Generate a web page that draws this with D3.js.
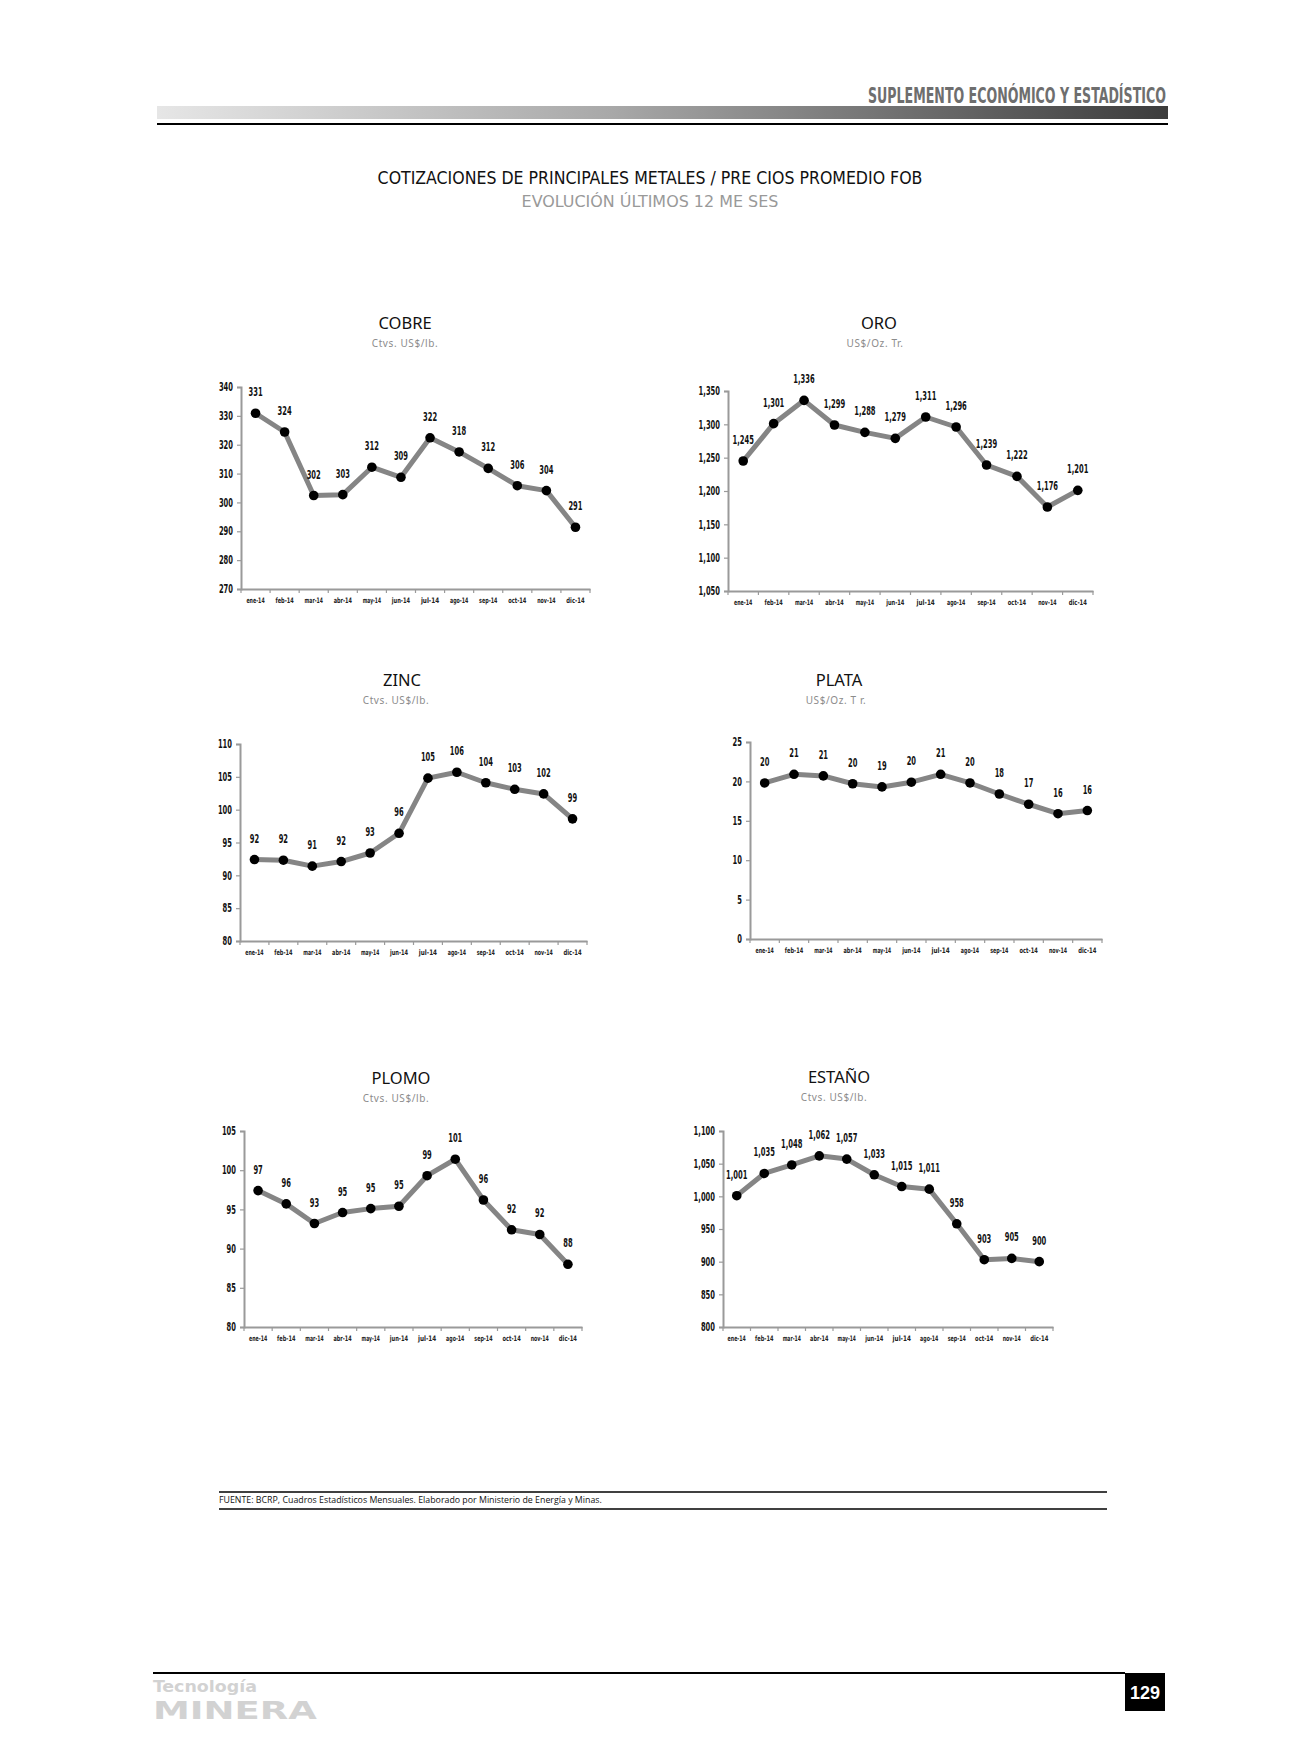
<!DOCTYPE html>
<html>
<head>
<meta charset="utf-8">
<script src="https://cdn.jsdelivr.net/npm/d3@7"></script>
<style>
  body { margin: 0; background: #fff; }
  svg { display: block; }
</style>
</head>
<body>
<div id="page"></div>
<script>
// meses del eje x
const months = ['ene-14', 'feb-14', 'mar-14', 'abr-14', 'may-14', 'jun-14',
  'jul-14', 'ago-14', 'sep-14', 'oct-14', 'nov-14', 'dic-14']

// cotizaciones
const cobre = [330.9, 324.4, 302.4, 302.7, 312.2, 308.7, 322.4, 317.5, 311.8, 305.8, 304.1, 291.4]
const oro = [1245, 1301, 1336, 1299, 1288, 1279, 1311, 1296, 1239, 1222, 1176, 1201]
const zinc = [92.4, 92.3, 91.4, 92.1, 93.4, 96.4, 104.8, 105.7, 104.1, 103.1, 102.4, 98.6]
const plata = [19.8, 20.9, 20.7, 19.7, 19.3, 19.9, 20.9, 19.8, 18.4, 17.1, 15.9, 16.3]
const plomo = [97.4, 95.7, 93.2, 94.6, 95.1, 95.4, 99.3, 101.4, 96.2, 92.4, 91.8, 88.0]
const estano = [1001, 1035, 1048, 1062, 1057, 1033, 1015, 1011, 958, 903, 905, 900]

// ticks del eje y
const cobreTicks = [270, 280, 290, 300, 310, 320, 330, 340]
const oroTicks = [1050, 1100, 1150, 1200, 1250, 1300, 1350]
const zincTicks = [80, 85, 90, 95, 100, 105, 110]
const plataTicks = [0, 5, 10, 15, 20, 25]
const plomoTicks = [80, 85, 90, 95, 100, 105]
const estanoTicks = [800, 850, 900, 950, 1000, 1050, 1100]

const panels = [
  { title: 'COBRE', unit: 'Ctvs. US$/lb.', values: cobre, ticks: cobreTicks,
    x0: 241, x1: 590, yTop: 387, yBot: 589, tx: 405, ty: 329, ux: 405 },
  { title: 'ORO', unit: 'US$/Oz. Tr.', values: oro, ticks: oroTicks,
    x0: 728, x1: 1093, yTop: 391, yBot: 591, tx: 879, ty: 329, ux: 875 },
  { title: 'ZINC', unit: 'Ctvs. US$/lb.', values: zinc, ticks: zincTicks,
    x0: 240, x1: 587, yTop: 744, yBot: 941, tx: 402, ty: 686, ux: 396 },
  { title: 'PLATA', unit: 'US$/Oz. T r.', values: plata, ticks: plataTicks,
    x0: 750, x1: 1102, yTop: 742, yBot: 939, tx: 839, ty: 686, ux: 836 },
  { title: 'PLOMO', unit: 'Ctvs. US$/lb.', values: plomo, ticks: plomoTicks,
    x0: 244, x1: 582, yTop: 1131, yBot: 1327, tx: 401, ty: 1084, ux: 396 },
  { title: 'ESTAÑO', unit: 'Ctvs. US$/lb.', values: estano, ticks: estanoTicks,
    x0: 723, x1: 1053, yTop: 1131, yBot: 1327, tx: 839, ty: 1083, ux: 834 }
]

const W = 1291, H = 1763
const cond = '"DejaVu Sans Condensed", "Liberation Sans Narrow", sans-serif'
const fmt = d3.format(',.0f')

// ancho aproximado de los numeros en la fuente estrecha del original
const numWidth = (s) => s.split('').reduce((w, c) => w + (c === ',' ? 2.6 : 4.7), 0)
const monthWidth = (s) => s.length * 3.05

// comprime el texto horizontalmente hasta el ancho pedido
const fit = (sel, widthFn) => {
  sel.each(function (d, i) {
    const target = typeof widthFn === 'function' ? widthFn.call(this, d, i) : widthFn
    const natural = this.getComputedTextLength()
    if (!natural) return
    const k = target / natural
    const x = +this.getAttribute('x') || 0
    const y = +this.getAttribute('y') || 0
    this.setAttribute('x', 0)
    this.setAttribute('y', 0)
    this.setAttribute('transform', `translate(${x},${y}) scale(${k},1)`)
  })
}

const svg = d3.select('#page').append('svg')
  .attr('width', W)
  .attr('height', H)

// ---- cabecera ----
const grad = svg.append('defs').append('linearGradient')
  .attr('id', 'barGrad')
grad.append('stop').attr('offset', '0%').attr('stop-color', '#e6e6e6')
grad.append('stop').attr('offset', '45%').attr('stop-color', '#a8a8a8')
grad.append('stop').attr('offset', '100%').attr('stop-color', '#3c3c3c')

svg.append('text')
  .attr('x', 868).attr('y', 103)
  .attr('font-family', cond)
  .attr('font-weight', 'bold')
  .attr('font-size', 21)
  .attr('fill', '#6e6e6e')
  .text('SUPLEMENTO ECONÓMICO Y ESTADÍSTICO')
  .call(fit, 298)

svg.append('rect')
  .attr('x', 157).attr('y', 106)
  .attr('width', 1168 - 157).attr('height', 13)
  .attr('fill', 'url(#barGrad)')

svg.append('line')
  .attr('x1', 157).attr('x2', 1168)
  .attr('y1', 124).attr('y2', 124)
  .attr('stroke', '#000').attr('stroke-width', 2)

// titulo general
svg.append('text')
  .attr('x', 650).attr('y', 184)
  .attr('text-anchor', 'middle')
  .attr('font-family', cond)
  .attr('font-size', 17)
  .attr('fill', '#111')
  .text('COTIZACIONES DE PRINCIPALES METALES / PRE CIOS PROMEDIO FOB')
  .call(fit, 545)

svg.append('text')
  .attr('x', 650).attr('y', 207)
  .attr('text-anchor', 'middle')
  .attr('font-family', cond)
  .attr('font-size', 16)
  .attr('fill', '#999')
  .text('EVOLUCIÓN ÚLTIMOS 12 ME SES')
  .call(fit, 257)

// ---- graficos ----
const drawPanel = (p) => {
  const g = svg.append('g')

  const x = d3.scaleBand().domain(months).range([p.x0, p.x1])
  const y = d3.scaleLinear()
    .domain([p.ticks[0], p.ticks[p.ticks.length - 1]])
    .range([p.yBot, p.yTop])

  g.append('text')
    .attr('x', p.tx).attr('y', p.ty)
    .attr('text-anchor', 'middle')
    .attr('font-family', '"Noto Sans", sans-serif')
    .attr('font-size', 16.5)
    .attr('fill', '#111')
    .text(p.title)

  g.append('text')
    .attr('x', p.ux).attr('y', p.ty + 18)
    .attr('text-anchor', 'middle')
    .attr('font-family', '"Noto Sans", sans-serif')
    .attr('font-size', 10)
    .attr('letter-spacing', 0.6)
    .attr('fill', '#8c8c8c')
    .text(p.unit)

  // eje y
  const yAxis = g.append('g')
    .attr('transform', `translate(${p.x0},0)`)
    .call(d3.axisLeft(y).tickValues(p.ticks).tickFormat(d3.format(',')).tickSize(4).tickPadding(4))
  yAxis.select('.domain').attr('stroke', '#9a9a9a').attr('stroke-width', 2)
  yAxis.selectAll('.tick line').attr('stroke', '#9a9a9a').attr('stroke-width', 1.2)
  yAxis.selectAll('.tick text')
    .attr('font-family', cond)
    .attr('font-weight', 'bold')
    .attr('font-size', 11.5)
    .attr('fill', '#111')
    .call(fit, function () { return numWidth(this.textContent) })

  // eje x
  const xAxis = g.append('g')
    .attr('transform', `translate(0,${p.yBot})`)
    .call(d3.axisBottom(x).tickSize(0).tickPadding(9).tickSizeOuter(0))
  xAxis.select('.domain').attr('stroke', '#9a9a9a').attr('stroke-width', 2)
  xAxis.selectAll('.tick text')
    .attr('font-family', cond)
    .attr('font-weight', 'bold')
    .attr('font-size', 7.5)
    .attr('fill', '#222')
    .call(fit, function () { return monthWidth(this.textContent) })

  // marcas entre meses
  const bounds = months.map(m => x(m)).concat([p.x1])
  g.append('g').selectAll('line')
    .data(bounds)
    .enter().append('line')
    .attr('x1', d => d).attr('x2', d => d)
    .attr('y1', p.yBot).attr('y2', p.yBot + 4)
    .attr('stroke', '#9a9a9a').attr('stroke-width', 1.2)

  const cx = (d, i) => x(months[i]) + x.bandwidth() / 2

  const line = d3.line()
    .x(cx)
    .y(d => y(d))

  g.append('path')
    .datum(p.values)
    .attr('d', line)
    .attr('fill', 'none')
    .attr('stroke', '#858585')
    .attr('stroke-width', 5)
    .attr('stroke-linejoin', 'round')

  g.append('g').selectAll('circle')
    .data(p.values)
    .enter().append('circle')
    .attr('cx', cx)
    .attr('cy', d => y(d))
    .attr('r', 4.8)
    .attr('fill', '#000')

  g.append('g').selectAll('text')
    .data(p.values)
    .enter().append('text')
    .attr('x', cx)
    .attr('y', d => y(d) - 17)
    .attr('text-anchor', 'middle')
    .attr('font-family', cond)
    .attr('font-weight', 'bold')
    .attr('font-size', 12.5)
    .attr('fill', '#111')
    .text(d => fmt(d))
    .call(fit, d => numWidth(fmt(d)))
}

panels.forEach(drawPanel)

// ---- fuente ----
svg.append('line')
  .attr('x1', 219).attr('x2', 1107)
  .attr('y1', 1492).attr('y2', 1492)
  .attr('stroke', '#000').attr('stroke-width', 1.3)
svg.append('line')
  .attr('x1', 219).attr('x2', 1107)
  .attr('y1', 1509).attr('y2', 1509)
  .attr('stroke', '#000').attr('stroke-width', 1.3)
svg.append('text')
  .attr('x', 219).attr('y', 1503)
  .attr('font-family', '"Open Sans", sans-serif')
  .attr('font-size', 8.5)
  .attr('fill', '#111')
  .text('FUENTE: BCRP, Cuadros Estadísticos Mensuales. Elaborado por Ministerio de Energía y Minas.')
  .call(fit, 383)

// ---- pie de pagina ----
svg.append('line')
  .attr('x1', 153).attr('x2', 1125)
  .attr('y1', 1673).attr('y2', 1673)
  .attr('stroke', '#000').attr('stroke-width', 2)

svg.append('text')
  .attr('x', 153).attr('y', 1692)
  .attr('font-family', cond)
  .attr('font-weight', 'bold')
  .attr('font-size', 15)
  .attr('fill', '#d2d2d2')
  .text('Tecnología')
  .call(fit, 104)

svg.append('text')
  .attr('x', 153).attr('y', 1719)
  .attr('font-family', '"DejaVu Sans", sans-serif')
  .attr('font-weight', 'bold')
  .attr('font-size', 24)
  .attr('fill', '#d2d2d2')
  .text('MINERA')
  .call(fit, 164)

svg.append('rect')
  .attr('x', 1125).attr('y', 1673)
  .attr('width', 40).attr('height', 38)
  .attr('fill', '#000')
svg.append('text')
  .attr('x', 1145).attr('y', 1699)
  .attr('text-anchor', 'middle')
  .attr('font-family', '"Liberation Sans", sans-serif')
  .attr('font-weight', 'bold')
  .attr('font-size', 18)
  .attr('fill', '#fff')
  .text('129')
</script>
</body>
</html>
